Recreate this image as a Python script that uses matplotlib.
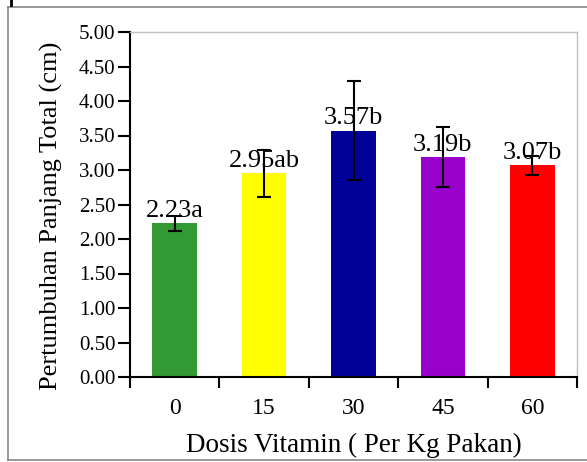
import matplotlib
matplotlib.use("Agg")
import matplotlib.pyplot as plt
from matplotlib.lines import Line2D

plt.rcParams['font.family'] = ['Liberation Serif', 'DejaVu Serif']

dosis = ['0', '15', '30', '45', '60']
rata = [2.23, 2.95, 3.57, 3.19, 3.07]
galat = [0.11, 0.34, 0.72, 0.44, 0.14]
notasi = ['2.23a', '2.95ab', '3.57b', '3.19b', '3.07b']
warna = ['#339933', '#ffff00', '#000099', '#9900cc', '#ff0000']

W, H = 587, 462
fig = plt.figure(figsize=(W / 100, H / 100), dpi=100)
ax = fig.add_axes([130 / W, 1 - 377 / H, 447 / W, 345 / H])

pos = list(range(len(dosis)))
ax.bar(pos, rata, width=0.5, color=warna, zorder=2)
for i in pos:
    ax.text(i, rata[i] + 0.02, notasi[i], ha='center', va='bottom', fontsize=19, zorder=3)
ax.errorbar(pos, rata, yerr=galat, fmt='none', ecolor='black', elinewidth=1.5,
            capsize=5, capthick=1.5, zorder=4)

ax.set_xlim(-0.5, 4.5)
ax.set_ylim(0, 5)
ax.set_yticks([i * 0.5 for i in range(11)])
ax.set_yticklabels(['%.2f' % (i * 0.5) for i in range(11)], fontsize=15)
ax.set_xticks([i - 0.5 for i in range(6)])
ax.set_xticklabels([])
ax.set_xticks(pos, minor=True)
ax.set_xticklabels(dosis, minor=True, fontsize=17)
ax.tick_params(axis='x', which='major', length=8, width=1.5, direction='out')
ax.tick_params(axis='x', which='minor', length=0, pad=15)
ax.tick_params(axis='y', length=8.5, width=1.5, direction='out', pad=2)

for s in ['left', 'bottom']:
    ax.spines[s].set_linewidth(1.5)
for s in ['top', 'right']:
    ax.spines[s].set_color('#c0c0c0')
    ax.spines[s].set_linewidth(1)

ax.set_xlabel('Dosis Vitamin ( Per Kg Pakan)', fontsize=19.5, labelpad=10)
ax.set_ylabel('Pertumbuhan Panjang Total (cm)', fontsize=19)
ax.yaxis.set_label_coords(-0.15, 0.467)

# bingkai luar
def px(x, y):
    return x / W, 1 - y / H
for a, b in [((8, 7), (587, 7)), ((8, 7), (8, 460)), ((8, 460), (587, 460))]:
    (x0, y0), (x1, y1) = px(*a), px(*b)
    fig.add_artist(Line2D([x0, x1], [y0, y1], color='#888888', lw=1.2))
(x0, y0), (x1, y1) = px(11, 0), px(11, 5)
fig.add_artist(Line2D([x0, x1], [y0, y1], color='black', lw=2))

fig.savefig('out.png', dpi=100)
